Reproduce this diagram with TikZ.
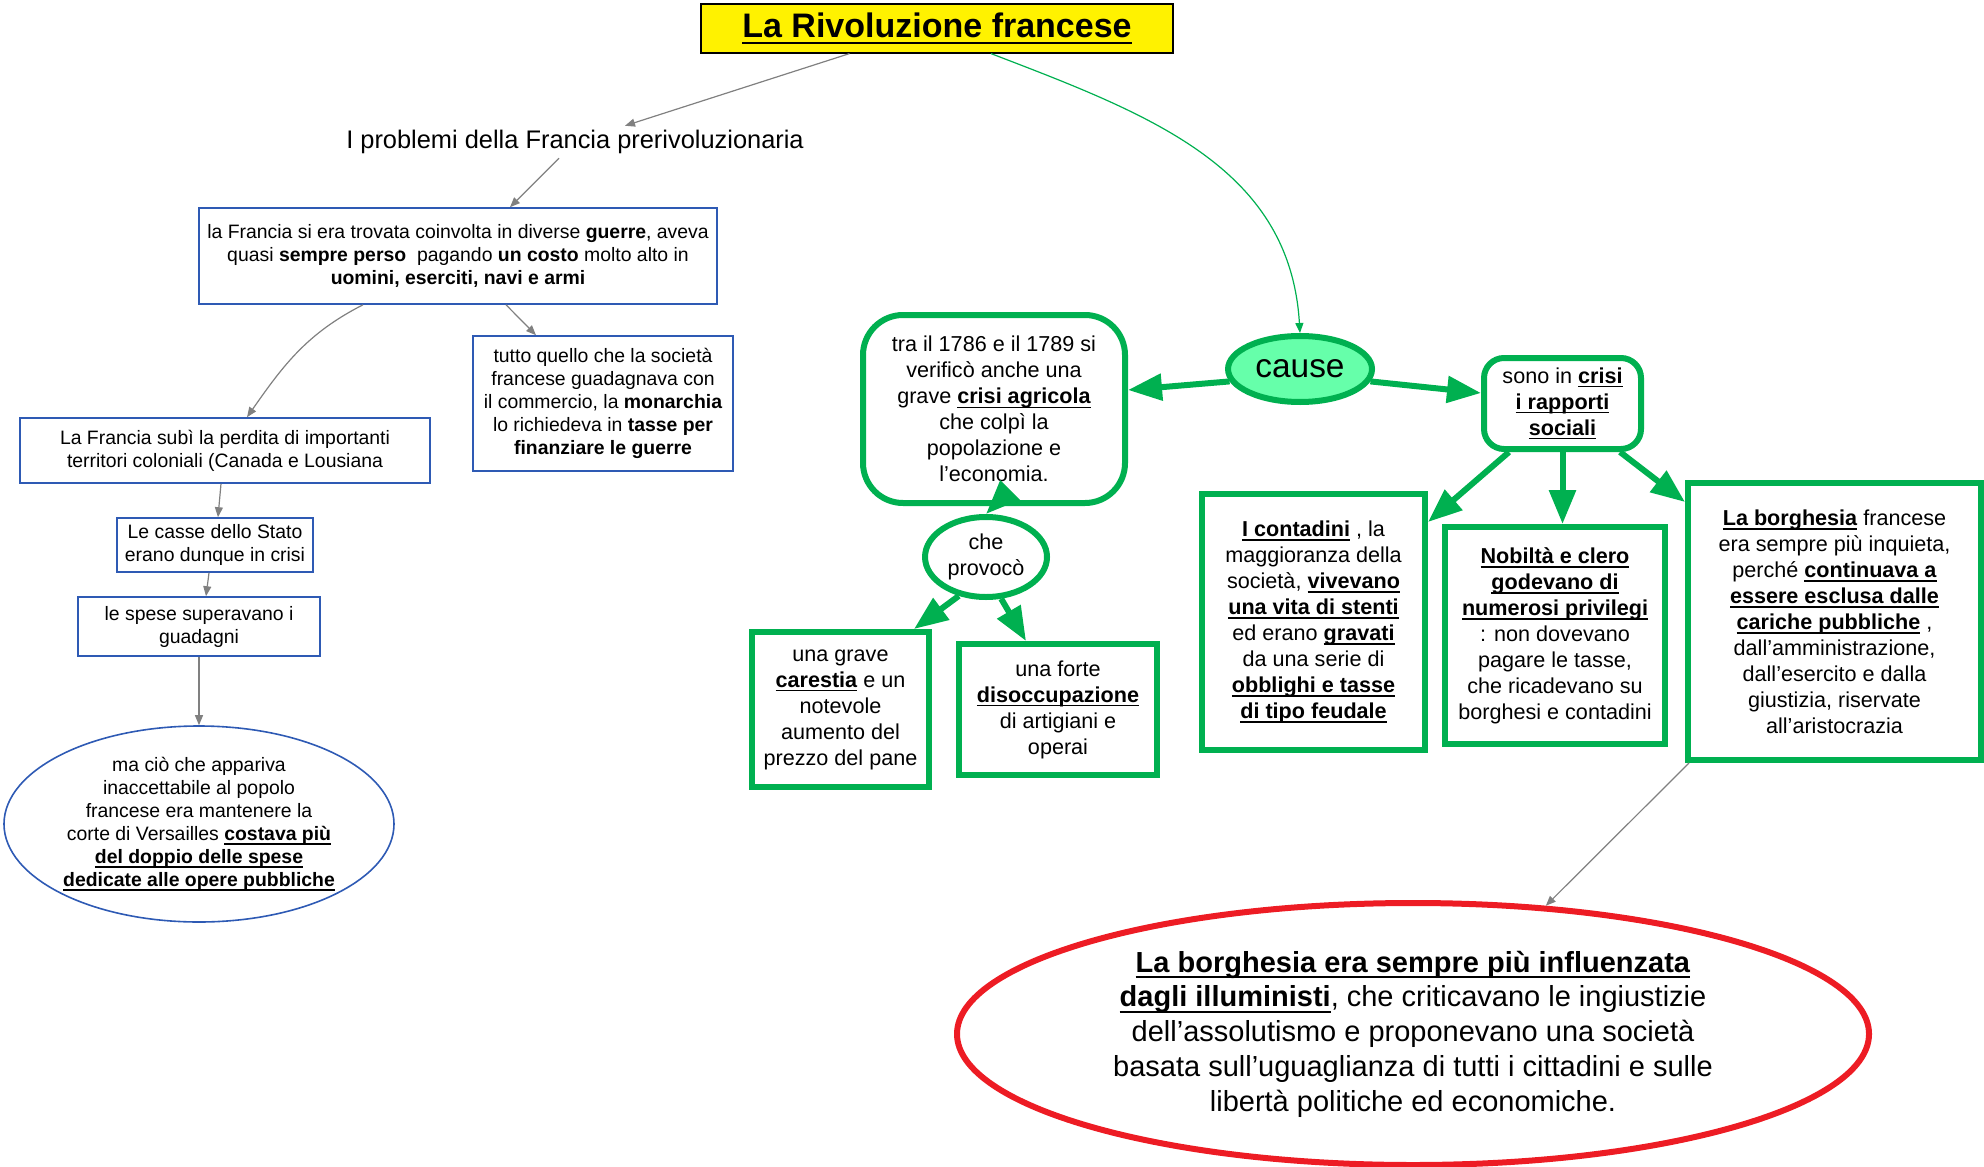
\documentclass[tikz,border=0pt]{standalone}
\usepackage{fontspec}
\setmainfont{Liberation Sans}
\usetikzlibrary{shapes.geometric,arrows.meta}
\definecolor{mapgreen}{RGB}{0,176,80}
\definecolor{causefill}{RGB}{102,255,170}
\definecolor{mapblue}{RGB}{46,90,180}
\definecolor{mapred}{RGB}{237,28,36}
\newcommand\ub[1]{\leavevmode\setbox0\hbox{\textbf{#1}}\rlap{\rule[-0.2em]{\wd0}{0.07em}}\box0\relax}
\newcommand\smallfnt{\fontsize{9.7}{11.5}\selectfont}
\newcommand\greenfnt{\fontsize{10.8}{13}\selectfont}

\begin{document}
\begin{tikzpicture}[x=0.5pt,y=-0.5pt,
  bluebox/.style={draw=mapblue,line width=0.8pt,inner sep=0pt,align=center,font=\smallfnt},
  greenbox/.style={draw=mapgreen,line width=3pt,fill=white,inner sep=0pt,align=center,font=\greenfnt},
  grayarrow/.style={draw=gray,line width=0.6pt,-{Triangle[length=5pt,width=4pt]}},
  greenarrow/.style={draw=mapgreen,line width=3pt,-{Triangle[length=17pt,width=13pt]}}]
\useasboundingbox (0,0) rectangle (1984,1166);
\node[draw=black,line width=0.6pt,fill=yellow,minimum width=236pt,minimum height=24.5pt,inner sep=0pt,font=\fontsize{17}{20}\selectfont] (title) at (937,28.5) {\ub{La Rivoluzione francese}};
\node[inner sep=2pt,font=\fontsize{12.7}{15}\selectfont] (prob) at (575,142) {I problemi della Francia prerivoluzionaria};
\node[bluebox,minimum width=259pt,minimum height=48pt] (guerre) at (458,256) {la Francia si era trovata coinvolta in diverse \textbf{guerre}, aveva\\ quasi \textbf{sempre perso}\ \ pagando \textbf{un costo} molto alto in\\ \textbf{uomini, eserciti, navi e armi}};
\node[bluebox,minimum width=130pt,minimum height=67.5pt] (tasse) at (603,403.5) {tutto quello che la società\\ francese guadagnava con\\ il commercio, la \textbf{monarchia}\\ lo richiedeva in \textbf{tasse per}\\ \textbf{finanziare le guerre}};
\node[bluebox,minimum width=205pt,minimum height=32.5pt] (colonie) at (225,450.5) {La Francia subì la perdita di importanti\\ territori coloniali (Canada e Lousiana};
\node[bluebox,minimum width=98pt,minimum height=27pt] (casse) at (215,545) {Le casse dello Stato\\ erano dunque in crisi};
\node[bluebox,minimum width=121pt,minimum height=29.5pt] (spese) at (199,626.5) {le spese superavano i\\ guadagni};
\node[bluebox,ellipse,minimum width=195pt,minimum height=98pt] (corte) at (199,824) {ma ciò che appariva\\ inaccettabile al popolo\\ francese era mantenere la\\ corte di Versailles \ub{costava più}\\ \ub{del doppio delle spese}\\ \ub{dedicate alle opere pubbliche}};
\node[greenbox,ellipse,fill=causefill,minimum width=72pt,minimum height=33pt,font=\fontsize{16.7}{20}\selectfont] (cause) at (1300,369) {cause};
\node[greenbox,rounded corners=20pt,minimum width=131pt,minimum height=94pt] (agricola) at (994,409) {tra il 1786 e il 1789 si\\ verificò anche una\\ grave \ub{crisi agricola}\\ che colpì la\\ popolazione e\\ l’economia.};
\node[greenbox,ellipse,minimum width=61pt,minimum height=40pt] (provoco) at (986,557) {che\\ provocò};
\node[greenbox,minimum width=88.5pt,minimum height=77.5pt] (carestia) at (840.5,709.5) {una grave\\ \ub{carestia} e un\\ notevole\\ aumento del\\ prezzo del pane};
\node[greenbox,minimum width=99pt,minimum height=65.5pt] (disocc) at (1058,709.5) {una forte\\ \ub{disoccupazione}\\ di artigiani e\\ operai};
\node[greenbox,rounded corners=10pt,minimum width=78.5pt,minimum height=45.5pt] (rapporti) at (1562.5,403.5) {sono in \ub{crisi}\\ \ub{i rapporti}\\ \ub{sociali}};
\node[greenbox,minimum width=111.5pt,minimum height=128pt] (contadini) at (1313.5,622) {\ub{I contadini} , la\\ maggioranza della\\ società, \ub{vivevano}\\ \ub{una vita di stenti}\\ ed erano \ub{gravati}\\ da una serie di\\ \ub{obblighi e tasse}\\ \ub{di tipo feudale}};
\node[greenbox,minimum width=110pt,minimum height=108.5pt] (nobilta) at (1555,635.5) {\ub{Nobiltà e clero}\\ \ub{godevano di}\\ \ub{numerosi privilegi}\\ : non dovevano\\ pagare le tasse,\\ che ricadevano su\\ borghesi e contadini};
\node[greenbox,minimum width=146.5pt,minimum height=138.5pt] (borghesia) at (1834.5,621.5) {\ub{La borghesia} francese\\ era sempre più inquieta,\\ perché \ub{continuava a}\\ \ub{essere esclusa dalle}\\ \ub{cariche pubbliche} ,\\ dall’amministrazione,\\ dall’esercito e dalla\\ giustizia, riservate\\ all’aristocrazia};
\node[ellipse,draw=mapred,line width=3pt,inner sep=0pt,align=center,minimum width=456pt,minimum height=131pt,font=\fontsize{14.5}{17.4}\selectfont] (illum) at (1413,1034) {\ub{La borghesia era sempre più influenzata}\\ \ub{dagli illuministi}, che criticavano le ingiustizie\\ dell’assolutismo e proponevano una società\\ basata sull’uguaglianza di tutti i cittadini e sulle\\ libertà politiche ed economiche.};
\draw[grayarrow] (title.196.6) -- (prob.18);
\draw[grayarrow] ([xshift=-8pt]prob.south) -- ([xshift=26pt]guerre.north);
\draw[grayarrow] ([xshift=-47.5pt]guerre.south) to[out=207,in=55] ([xshift=11pt]colonie.north);
\draw[grayarrow] ([xshift=24pt]guerre.south) -- ([xshift=-33.5pt]tasse.north);
\draw[grayarrow] ([xshift=-2pt]colonie.south) -- ([xshift=1.5pt]casse.north);
\draw[grayarrow] ([xshift=-3pt]casse.south) -- ([xshift=3.5pt]spese.north);
\draw[grayarrow] (spese.south) -- (corte.north);
\draw[draw=mapgreen,line width=0.6pt,-{Triangle[length=5pt,width=4pt]}] ([xshift=27pt]title.south) .. controls +(79.5pt,-30.5pt) and +(-5pt,83pt) .. (cause.north);
\draw[greenarrow] (cause.190) -- ([yshift=9.5pt]agricola.east);
\draw[greenarrow] (cause.-10) -- ([yshift=5.25pt]rapporti.west);
\draw[greenarrow] (agricola.south) -- (provoco.north);
\draw[greenarrow] (provoco.-125) -- ([xshift=36.75pt]carestia.north);
\draw[greenarrow] (provoco.-70) -- ([xshift=-16pt]disocc.north);
\draw[greenarrow] ([xshift=-26.75pt]rapporti.south) -- ([yshift=50pt]contadini.east);
\draw[greenarrow] (rapporti.south) -- (rapporti.south |- nobilta.north);
\draw[greenarrow] ([xshift=28.75pt]rapporti.south) -- ([yshift=59.75pt]borghesia.west);
\draw[grayarrow] ([xshift=2pt]borghesia.south west) -- (illum.44);
\end{tikzpicture}
\end{document}
